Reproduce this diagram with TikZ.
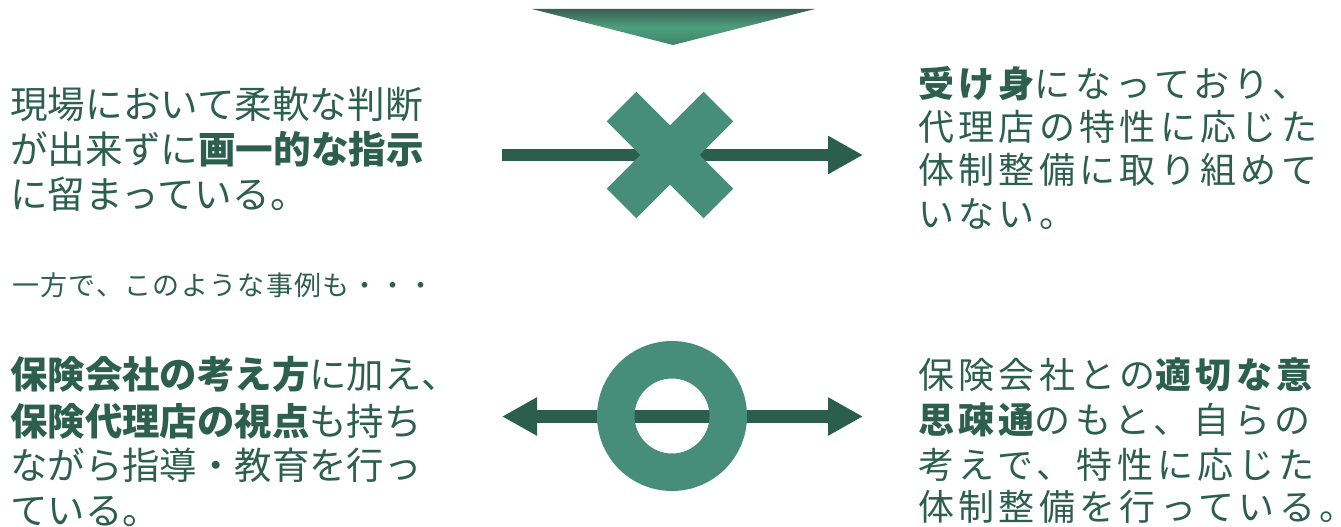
\documentclass[tikz,border=0pt]{standalone}
\usepackage{fontspec}
\usetikzlibrary{arrows.meta}
\newfontfamily\jp{Noto Sans CJK JP}
\newfontfamily\jpsp{Noto Sans CJK JP}[LetterSpace=12]
\newfontfamily\jpsm{Noto Sans CJK JP}[LetterSpace=5]
\definecolor{txt}{HTML}{2D5F4F}
\definecolor{shpc}{HTML}{468E78}
\definecolor{arr}{HTML}{2B5E4D}
\definecolor{tritop}{HTML}{3A5F52}
\definecolor{trimid}{HTML}{4E9E80}
\definecolor{tribot}{HTML}{3F8568}
\tikzset{
  lineL/.style={anchor=base west, inner sep=0pt, text=txt, font=\jp\fontsize{37.6}{37.6}\selectfont},
  lineR/.style={anchor=base west, inner sep=0pt, text=txt, font=\jpsp\fontsize{36}{36}\selectfont},
  lineBL/.style={anchor=base west, inner sep=0pt, text=txt, font=\jp\fontsize{37.4}{37.4}\selectfont},
  small/.style={anchor=base west, inner sep=0pt, text=txt, font=\jpsm\fontsize{27}{27}\selectfont},
  bar/.style={fill=shpc, draw=none, minimum width=137pt, minimum height=42pt, inner sep=0pt},
  conn/.style={draw=arr, line width=12pt},
  tip/.style={-{Triangle[length=35pt,width=36pt]}},
}
\begin{document}
\begin{tikzpicture}[x=1pt,y=-1pt]
\useasboundingbox (0,0) rectangle (1341,527);
% top triangle
\shade[top color=tritop, bottom color=tribot, middle color=trimid] (532,9) -- (815,9) -- (673,45) -- cycle;
% upper row: arrow with cross
\coordinate (xs) at (502,155);
\coordinate (xe) at (863,155);
\draw[conn, tip] (xs) -- (xe);
\node[bar, rotate=45] (x1) at (670,155) {};
\node[bar, rotate=-45] (x2) at (670,155) {};
% lower row: double arrow with ring
\coordinate (os) at (502,416.5);
\coordinate (oe) at (863,416.5);
\draw[conn, line width=13pt, {Triangle[length=35pt,width=36pt]}-{Triangle[length=35pt,width=36pt]}] (os) -- (oe);
\coordinate (oc) at (672,416);
\fill[shpc, even odd rule] (oc) circle (75pt) (oc) circle (37.5pt);
% upper left text
\node[lineL] (a1) at (10,118) {現場において柔軟な判断};
\node[lineL] (a2) at (10,163) {が出来ずに\bfseries 画一的な指示};
\node[lineL] (a3) at (10,208) {に留まっている。};
% upper right text
\node[lineR] (b1) at (918,97) {{\bfseries 受け身}になっており、};
\node[lineR] (b2) at (918,140) {代理店の特性に応じた};
\node[lineR] (b3) at (918,183) {体制整備に取り組めて};
\node[lineR] (b4) at (918,227) {いない。};
% middle small text
\node[small] (m) at (12,295) {一方で、このような事例も・・・};
% lower left text
\node[lineBL] (c1) at (10,388) {{\bfseries 保険会社の考え方}に加え、};
\node[lineBL] (c2) at (10,435) {{\bfseries 保険代理店の視点}も持ち};
\node[lineBL] (c3) at (10,479) {ながら指導・教育を行っ};
\node[lineBL] (c4) at (10,524) {ている。};
% lower right text
\node[lineR] (d1) at (918,388) {保険会社との{\bfseries 適切な意}};
\node[lineR] (d2) at (918,433) {{\bfseries 思疎通}のもと、自らの};
\node[lineR] (d3) at (918,478) {考えで、特性に応じた};
\node[lineR] (d4) at (918,520) {体制整備を行っている。};
\end{tikzpicture}
\end{document}
